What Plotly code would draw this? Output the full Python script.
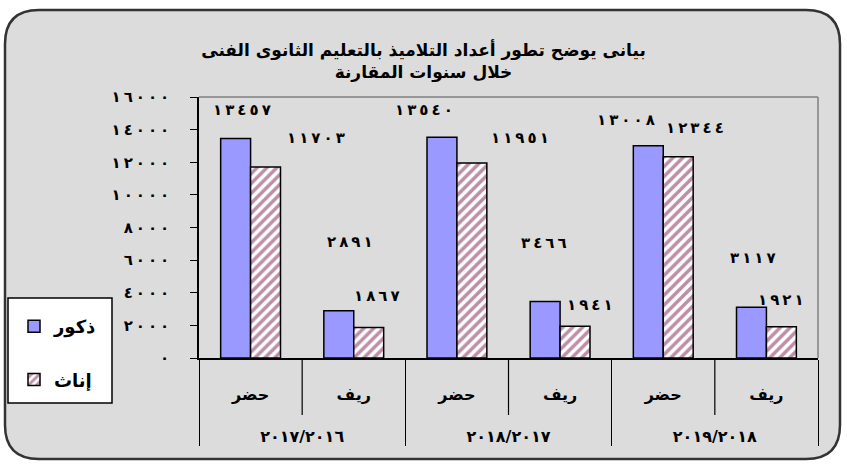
import plotly.graph_objects as go

# ---------------- data ----------------
YEARS = ["٢٠١٧/٢٠١٦", "٢٠١٨/٢٠١٧", "٢٠١٩/٢٠١٨"]
AREAS = ["حضر", "ريف"]
SERIES_NAMES = ["ذكور", "إناث"]
MALES = [13457, 2891, 13540, 3466, 13008, 3117]
FEMALES = [11703, 1867, 11951, 1941, 12344, 1921]
Y_TICK_VALUES = [0, 2000, 4000, 6000, 8000, 10000, 12000, 14000, 16000]
Y_TICK_LABELS = ["٠", "٢٠٠٠", "٤٠٠٠", "٦٠٠٠", "٨٠٠٠", "١٠٠٠٠", "١٢٠٠٠", "١٤٠٠٠", "١٦٠٠٠"]
TITLE_LINES = ["بيانى يوضح تطور أعداد التلاميذ بالتعليم الثانوى الفنى", "خلال سنوات المقارنة"]

# label offsets (style, pixels) for the data labels [dx, dy]
MALE_SHIFTS = [(6, 28), (11, 69), (-18, 27), (-1, 58), (-22, 26), (2, 49)]
FEMALE_SHIFTS = [(50, 29), (8, 32), (48, 25), (15, 21), (17, 29), (0, 27)]

AR_DIGITS = str.maketrans("0123456789", "٠١٢٣٤٥٦٧٨٩")
LRM = "\u200e"
GAP = LRM + "\u2009" + LRM


def ar(v):
    return str(v).translate(AR_DIGITS)


def spaced(s):
    # widen the digit spacing while keeping left-to-right digit order
    return GAP.join(list(s))


x_outer = [y for y in YEARS for _ in AREAS]
x_inner = ["\u00a0<br>" + a + "<br>\u00a0" for _ in YEARS for a in AREAS]

FONT = "DejaVu Sans"
W, H = 847, 464
ML, MR, MT, MB = 199, 29, 97, 106
PW, PH = W - ML - MR, H - MT - MB


def px(xp):
    return (xp - ML) / PW


def py(yp):
    return (H - MB - yp) / PH


fig = go.Figure()
fig.add_trace(go.Bar(
    x=[x_outer, x_inner], y=MALES, name=SERIES_NAMES[0], legendgroup="m",
    marker=dict(color="#9999ff", line=dict(color="black", width=1.5)),
))
fig.add_trace(go.Bar(
    x=[x_outer, x_inner], y=FEMALES, name=SERIES_NAMES[1], legendgroup="f",
    marker=dict(color="white", line=dict(color="black", width=1.5),
                pattern=dict(shape="/", fgcolor="#7a1f4f", bgcolor="white",
                             size=7, solidity=0.5)),
))

annotations = []
bw = (1 - 0.42) / 2
LABEL_FONT = dict(family=FONT, size=15, color="black", weight="bold")
for i, v in enumerate(MALES):
    dx, dy = MALE_SHIFTS[i]
    annotations.append(dict(x=i - bw / 2, y=v, xref="x", yref="y", text=spaced(ar(v)),
                            showarrow=False, xshift=dx, yshift=dy, font=LABEL_FONT))
for i, v in enumerate(FEMALES):
    dx, dy = FEMALE_SHIFTS[i]
    annotations.append(dict(x=i + bw / 2, y=v, xref="x", yref="y", text=spaced(ar(v)),
                            showarrow=False, xshift=dx, yshift=dy, font=LABEL_FONT))

# rounded background panel
x0, x1, y0, y1, r = 5, 840, 10, 459, 34
path = (
    f"M {px(x0 + r)},{py(y0)} L {px(x1 - r)},{py(y0)} "
    f"Q {px(x1)},{py(y0)} {px(x1)},{py(y0 + r)} "
    f"L {px(x1)},{py(y1 - r)} Q {px(x1)},{py(y1)} {px(x1 - r)},{py(y1)} "
    f"L {px(x0 + r)},{py(y1)} Q {px(x0)},{py(y1)} {px(x0)},{py(y1 - r)} "
    f"L {px(x0)},{py(y0 + r)} Q {px(x0)},{py(y0)} {px(x0 + r)},{py(y0)} Z"
)
shapes = [
    dict(type="path", path=path, xref="paper", yref="paper", layer="below",
         fillcolor="#dcdcdc", line=dict(color="#333333", width=2.5)),
    # top and right border of plot area
    dict(type="line", xref="paper", yref="paper", x0=0, x1=1, y0=1, y1=1,
         line=dict(color="#808080", width=1.5)),
    dict(type="line", xref="paper", yref="paper", x0=1, x1=1, y0=0, y1=1,
         line=dict(color="#808080", width=1.5)),
    # legend box
    dict(type="rect", xref="paper", yref="paper", x0=px(8), x1=px(112),
         y0=py(403), y1=py(298), fillcolor="white", layer="above",
         line=dict(color="black", width=1.5)),
]
# separators between inner categories
for k in range(len(YEARS)):
    xs = k * len(AREAS) + 0.5
    shapes.append(dict(type="line", xref="x", yref="paper", x0=xs, x1=xs,
                       y0=0, y1=-57 / PH, line=dict(color="black", width=1.2)))

fig.update_layout(
    width=W, height=H,
    margin=dict(l=ML, r=MR, t=MT, b=MB, autoexpand=False),
    paper_bgcolor="white",
    plot_bgcolor="#ccffcc",
    barmode="group", bargap=0.42, bargroupgap=0,
    title=dict(text="<br>".join(TITLE_LINES), x=0.5, xanchor="center",
               y=1 - 56 / H, yanchor="middle", yref="container",
               font=dict(family=FONT, size=17, color="black", weight="bold")),
    legend=dict(x=px(14), y=py(308), xanchor="left", yanchor="top",
                bgcolor="rgba(0,0,0,0)", borderwidth=0,
                tracegroupgap=27,
                font=dict(family=FONT, size=18, color="black", weight="bold")),
    font=dict(family=FONT, color="black"),
    annotations=annotations,
    shapes=shapes,
)
fig.update_xaxes(
    type="multicategory", showline=True, linecolor="black", linewidth=1.5,
    showdividers=True, dividercolor="black", dividerwidth=1.2,
    tickfont=dict(family=FONT, size=16, color="black", weight="bold"),
    showgrid=False,
)
fig.update_yaxes(
    range=[0, 16000], tickvals=Y_TICK_VALUES,
    ticktext=[spaced(t) for t in Y_TICK_LABELS],
    showline=True, linecolor="black", linewidth=1.5,
    ticks="outside", ticklen=7, tickcolor="black", tickwidth=1.2,
    ticklabelstandoff=18,
    tickfont=dict(family=FONT, size=15, color="black", weight="bold"),
    showgrid=False, zeroline=False,
)

fig.write_html("out.html", config={"displayModeBar": False},
               post_script="document.body.style.margin='0';")
